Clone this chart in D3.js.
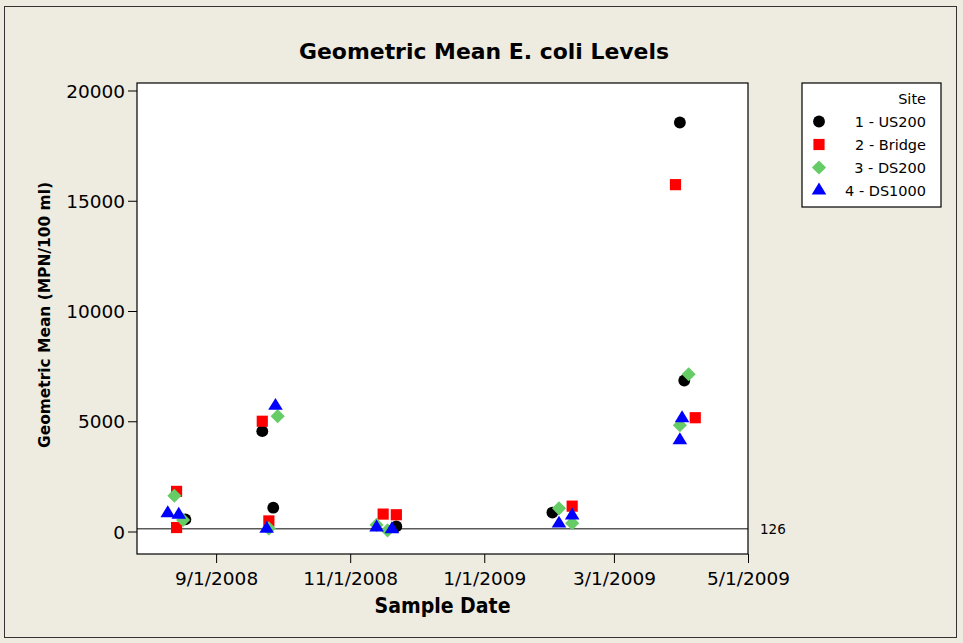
<!DOCTYPE html>
<html><head><meta charset="utf-8">
<script src="https://cdn.jsdelivr.net/npm/d3@7"></script>
<style>html,body{margin:0;padding:0;background:#EEEBE0;}svg{display:block;}</style>
</head><body>
<script>
// ---- data ----
const siteNames = ["1 - US200", "2 - Bridge", "3 - DS200", "4 - DS1000"];
const site1Dates  = ["2008-08-18","2008-09-22","2008-09-27","2008-11-22","2009-02-01","2009-03-31","2009-04-02"];
const site1Values = [550, 4550, 1080, 230, 860, 18550, 6850];
const site2Dates  = ["2008-08-14","2008-08-14","2008-09-22","2008-09-25","2008-11-16","2008-11-22","2009-02-10","2009-03-29","2009-04-07"];
const site2Values = [1820, 180, 5000, 480, 790, 760, 1150, 15730, 5160];
const site3Dates  = ["2008-08-13","2008-08-17","2008-09-25","2008-09-29","2008-11-13","2008-11-18","2009-02-04","2009-02-10","2009-03-31","2009-04-04"];
const site3Values = [1620, 520, 140, 5230, 300, 50, 1050, 380, 4820, 7130];
const site4Dates  = ["2008-08-10","2008-08-15","2008-09-24","2008-09-28","2008-11-13","2008-11-20","2009-02-04","2009-02-10","2009-04-01","2009-03-31"];
const site4Values = [830, 760, 120, 5700, 180, 100, 360, 730, 5140, 4140];
const xTickDates = ["2008-09-01","2008-11-01","2009-01-01","2009-03-01","2009-05-01"];
const yTickValues = [0, 5000, 10000, 15000, 20000];
const refValue = 126;
const titleText = "Geometric Mean E. coli Levels";
const xLabel = "Sample Date";
const yLabel = "Geometric Mean (MPN/100 ml)";
const legendTitle = "Site";

// ---- chart ----
const W = 963, H = 643;
const parse = d3.timeParse("%Y-%m-%d");
const L = 137, R = 748, T = 83, B = 554;
const x = d3.scaleTime().domain([parse("2008-07-27"), parse("2009-05-01")]).range([L, R]);
const y = d3.scaleLinear().domain([-1020, 20340]).range([B, T]);

const svg = d3.select("body").append("svg").attr("width", W).attr("height", H);
svg.append("rect").attr("x", 0).attr("y", 0).attr("width", W).attr("height", H).attr("fill", "#EEEBE0");
svg.append("rect").attr("x", 4.5).attr("y", 6.5).attr("width", 952).attr("height", 631)
  .attr("fill", "none").attr("stroke", "#333").attr("stroke-width", 1);

// plot area
svg.append("rect").attr("x", L).attr("y", T).attr("width", R - L).attr("height", B - T)
  .attr("fill", "#fff");

const font = "'DejaVu Sans', Verdana, sans-serif";

// title
svg.append("text").attr("x", 484).attr("y", 59).attr("text-anchor", "middle")
  .attr("font-family", font).attr("font-weight", "bold").attr("font-size", 22)
  .attr("textLength", 370).attr("lengthAdjust", "spacingAndGlyphs")
  .attr("fill", "#000").text(titleText);

// axes
const yAxis = d3.axisLeft(y).tickValues(yTickValues).tickSize(9).tickPadding(3).tickFormat(d3.format("d"));
const gy = svg.append("g").attr("transform", `translate(${L},0)`).call(yAxis);
const xAxis = d3.axisBottom(x).tickValues(xTickDates.map(parse)).tickSize(9).tickPadding(4)
  .tickFormat(d3.timeFormat("%-m/%-d/%Y"));
const gx = svg.append("g").attr("transform", `translate(0,${B})`).call(xAxis);
[gx, gy].forEach(g => {
  g.select(".domain").remove();
  g.selectAll(".tick line").attr("stroke", "#000").attr("stroke-width", 1);
  g.selectAll(".tick text").attr("font-family", font).attr("font-size", 18.5).attr("fill", "#000");
});
gx.selectAll(".tick text").attr("dy", "0.95em");
gy.selectAll(".tick text").attr("dy", "0.36em");

// reference line
svg.append("line").attr("x1", L).attr("x2", R).attr("y1", y(refValue)).attr("y2", y(refValue))
  .attr("stroke", "#5a5a5a").attr("stroke-width", 1.6);
svg.append("text").attr("x", 760).attr("y", y(refValue)).attr("dy", "0.36em")
  .attr("font-family", font).attr("font-size", 13.5).attr("fill", "#000").text(String(refValue));

// plot border
svg.append("rect").attr("x", L).attr("y", T).attr("width", R - L).attr("height", B - T)
  .attr("fill", "none").attr("stroke", "#000").attr("stroke-width", 1.2);

// symbols
const colors = ["#000000", "#FF0000", "#66CC66", "#0000FF"];
const symbols = [d3.symbolCircle, d3.symbolSquare, d3.symbolDiamond, d3.symbolTriangle];
const sizes = [110, 125, 120, 82];
const series = [
  {dates: site1Dates, values: site1Values},
  {dates: site2Dates, values: site2Values},
  {dates: site3Dates, values: site3Values},
  {dates: site4Dates, values: site4Values}
];
function drawSym(g, i) {
  if (i === 2) {
    g.append("rect").attr("x", -5).attr("y", -5).attr("width", 10).attr("height", 10)
      .attr("transform", "rotate(45)").attr("fill", colors[i]);
  } else if (i === 3) {
    g.append("path").attr("d", d3.symbol().type(d3.symbolTriangle).size(sizes[i])())
      .attr("transform", "scale(1.06,1)").attr("fill", colors[i]);
  } else {
    g.append("path").attr("d", d3.symbol().type(symbols[i]).size(sizes[i])()).attr("fill", colors[i]);
  }
}
series.forEach((s, i) => {
  s.dates.forEach((d, j) => {
    const g = svg.append("g").attr("transform", `translate(${x(parse(d))},${y(s.values[j])})`);
    drawSym(g, i);
  });
});

// axis labels
svg.append("text").attr("x", (L + R) / 2).attr("y", 613).attr("text-anchor", "middle")
  .attr("font-family", font).attr("font-weight", "bold").attr("font-size", 21)
  .attr("textLength", 136).attr("lengthAdjust", "spacingAndGlyphs").text(xLabel);
svg.append("text").attr("transform", "translate(50,315) rotate(-90)").attr("text-anchor", "middle")
  .attr("font-family", font).attr("font-weight", "bold").attr("font-size", 15)
  .attr("textLength", 266).attr("lengthAdjust", "spacingAndGlyphs").text(yLabel);

// legend
const lg = svg.append("g");
lg.append("rect").attr("x", 802).attr("y", 83).attr("width", 139).attr("height", 124)
  .attr("fill", "#fff").attr("stroke", "#000").attr("stroke-width", 1.2);
lg.append("text").attr("x", 926).attr("y", 104).attr("text-anchor", "end")
  .attr("font-family", font).attr("font-size", 14.5).text(legendTitle);
siteNames.forEach((n, i) => {
  const cy = 122 + i * 23;
  const g = lg.append("g").attr("transform", `translate(819,${cy - 0.5})`);
  drawSym(g, i);
  lg.append("text").attr("x", 926).attr("y", cy).attr("dy", "0.36em").attr("text-anchor", "end")
    .attr("font-family", font).attr("font-size", 14.5).text(n);
});
</script>
</body></html>
